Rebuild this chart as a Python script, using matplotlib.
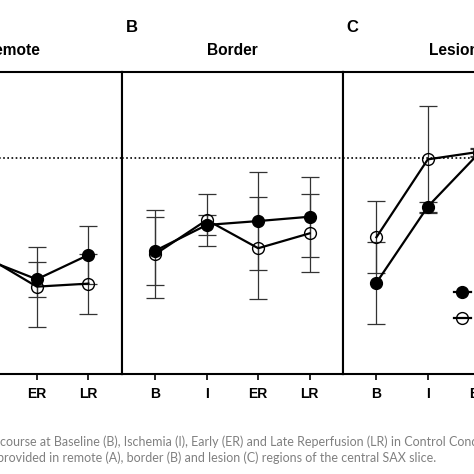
import matplotlib
matplotlib.use("Agg")
import matplotlib.pyplot as plt

# time points
time_labels = ["B", "I", "ER", "LR"]
x = [0, 1, 2, 3]

# remote (A) - only part of it is in the crop
remote_filled = [53.0, 53.3, 43.9, 55.2]
remote_filled_err = [12.0, 12.0, 8.1, 13.4]
remote_open = [52.0, 54.7, 40.5, 41.9]
remote_open_err = [13.0, 14.0, 18.5, 13.9]

# border (B)
border_filled = [57.2, 69.1, 70.9, 72.9]
border_filled_err = [15.8, 4.6, 22.7, 18.5]
border_open = [55.6, 71.4, 58.3, 65.2]
border_open_err = [20.4, 12.1, 23.6, 18.1]

# lesion (C)
lesion_filled = [42.3, 77.6, 102.5, 105.0]
lesion_filled_err = [19.0, 2.3, 2.0, 9.0]
lesion_open = [63.4, 99.5, 103.0, 104.0]
lesion_open_err = [16.7, 24.7, 2.0, 10.0]

group_labels = ["Control", "Treated"]
caption_1 = "course at Baseline (B), Ischemia (I), Early (ER) and Late Reperfusion (LR) in Control Conditions"
caption_2 = "provided in remote (A), border (B) and lesion (C) regions of the central SAX slice."

plt.rcParams["font.family"] = ["Liberation Sans", "DejaVu Sans"]

fig = plt.figure(figsize=(4.74, 4.74), dpi=100)

W, H = 474.0, 474.0
bottom = 1 - 374 / H
height = 302 / H
ax_a = fig.add_axes([-100 / W, bottom, 222 / W, height])
ax_b = fig.add_axes([122 / W, bottom, 221 / W, height])
ax_c = fig.add_axes([343 / W, bottom, 221 / W, height])

panels = [
    (ax_a, "Remote", "A", remote_filled, remote_filled_err, remote_open, remote_open_err),
    (ax_b, "Border", "B", border_filled, border_filled_err, border_open, border_open_err),
    (ax_c, "Lesion", "C", lesion_filled, lesion_filled_err, lesion_open, lesion_open_err),
]

for ax, title, letter, yf, ef, yo, eo in panels:
    ax.errorbar(x, yf, yerr=ef, fmt="none", ecolor="#333333", elinewidth=0.9,
                capsize=6.5, capthick=0.9, zorder=2)
    ax.errorbar(x, yo, yerr=eo, fmt="none", ecolor="#333333", elinewidth=0.9,
                capsize=6.5, capthick=0.9, zorder=2)
    ax.plot(x, yf, "-o", color="black", lw=1.6, ms=8.5, zorder=3, label=group_labels[0])
    ax.plot(x, yo, "-o", color="black", lw=1.6, ms=8.5, mfc="none", mew=1.0,
            zorder=3, label=group_labels[1])
    ax.axhline(100, color="black", lw=1.2, ls=(0, (1, 1.5)), zorder=1)

    ax.set_xlim(-0.65, 3.65)
    ax.set_ylim(0, 140)
    ax.set_xticks(x)
    ax.set_xticklabels(time_labels, fontsize=10, fontweight="bold")
    ax.set_yticks([])
    ax.tick_params(axis="x", direction="out", length=4.5, width=1.2, pad=5)
    for s in ax.spines.values():
        s.set_linewidth(1.5)
    ax.set_title(title, fontsize=11.2, fontweight="bold", pad=12.5)
    ax.text(0.016, 1.133, letter, transform=ax.transAxes, fontsize=12,
            fontweight="bold", va="baseline", ha="left")

ax_c.legend(loc="upper left", bbox_to_anchor=(0.502, 0.292), frameon=False,
            fontsize=10, handlelength=1.2, borderpad=0, borderaxespad=0,
            labelspacing=0.9)

fig.text(0.0, 1 - 446 / H, caption_1, color="#808080", fontsize=9.0,
         family=["Lato", "DejaVu Sans"], va="baseline")
fig.text(-3 / W, 1 - 462 / H, caption_2, color="#808080", fontsize=9.0,
         family=["Lato", "DejaVu Sans"], va="baseline")

fig.savefig("out.png", dpi=100)
